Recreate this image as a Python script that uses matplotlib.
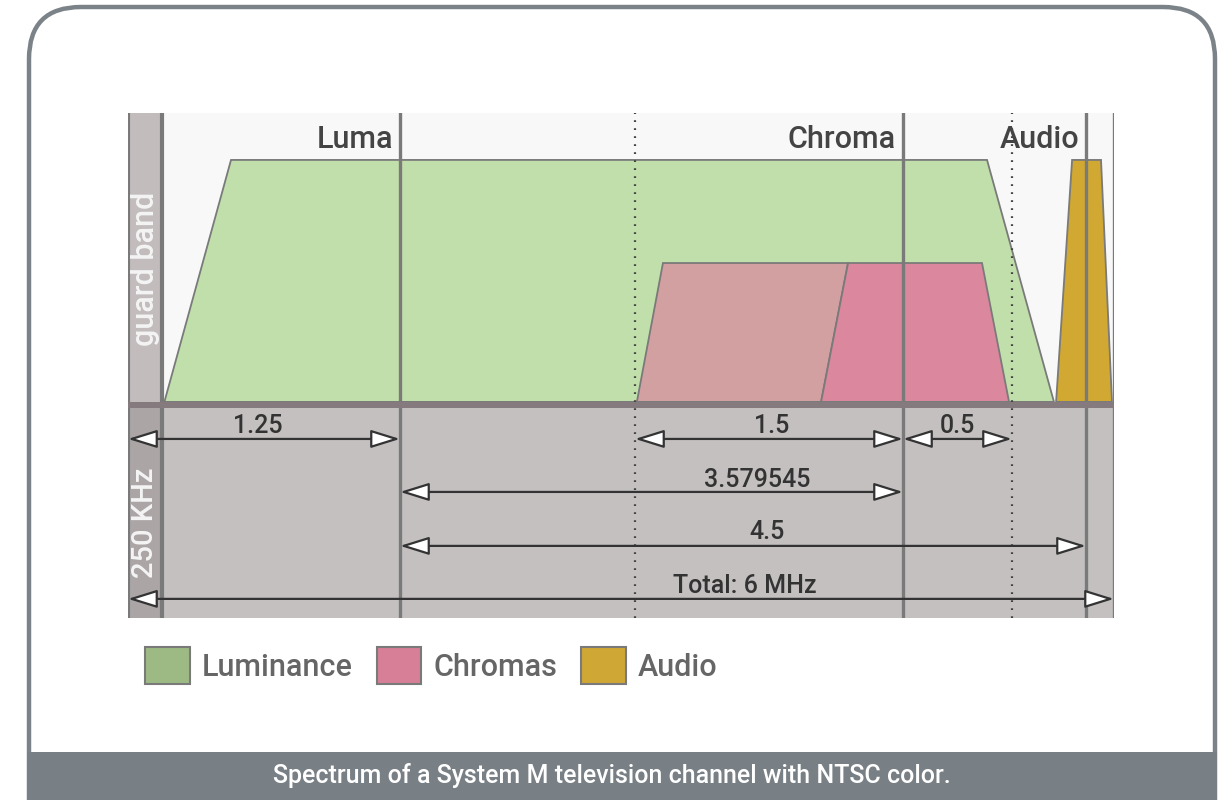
import numpy as np
import matplotlib
matplotlib.use("Agg")
import matplotlib.pyplot as plt
from matplotlib.patches import FancyBboxPatch, Patch, Polygon, ArrowStyle

plt.rcParams['font.family'] = ['Roboto', 'DejaVu Sans']
plt.rcParams['font.weight'] = 500

# ---------------- data (MHz / relative amplitude) ----------------
band_names = ['Luminance', 'Chromas', 'Audio']
band_colors = ['#9dba84', '#d67f96', '#cfa735']

luma_f = [0.26, 0.54, 5.215, 5.568]
luma_a = [0.0, 1.0, 1.0, 0.0]
chroma_lsb_f = [3.34, 3.486, 4.522, 4.371]
chroma_usb_f = [4.371, 4.522, 5.192, 5.316]
chroma_a = [0.0, 0.574, 0.574, 0.0]
audio_f = [5.58, 5.671, 5.884, 5.982]
audio_a = [0.0, 1.0, 1.0, 0.0]

solid_lines = [0.0, 0.25, 1.25, 4.829545, 5.75, 6.0]
dotted_lines = [3.329545, 5.329545]
carrier_labels = ['Luma', 'Chroma', 'Audio']
carrier_freqs = [1.25, 4.829545, 5.75]

arrow_starts = [0.0, 3.329545, 4.829545, 1.25, 1.25, 0.0]
arrow_ends = [1.25, 4.829545, 5.329545, 4.829545, 5.75, 6.0]
arrow_rows = [0, 0, 0, 1, 2, 3]
arrow_texts = ['1.25', '1.5', '0.5', '3.579545', '4.5', 'Total: 6 MHz']
arrow_text_f = [0.653, 4.096, 5.077, 4.012, 4.068, 3.945]

caption = 'Spectrum of a System M television channel with NTSC color.'

# ---------------- schematic (non-linear) frequency scale ----------------
SCALE_MHZ = [0.0, 0.25, 1.25, 3.329545, 4.829545, 5.329545, 5.75, 6.0]
SCALE_PX = [128, 162, 400, 635, 903, 1012, 1086, 1114]


def fwd(x):
    return np.interp(x, SCALE_MHZ, SCALE_PX)


def inv(x):
    return np.interp(x, SCALE_PX, SCALE_MHZ)


ROW_Y = [-0.153, -0.372, -0.595, -0.814]
ROW_TEXT_Y = [-0.128, -0.351, -0.566, -0.789]

W, H = 1225, 800
fig = plt.figure(figsize=(W / 100, H / 100), dpi=100)

# background axes in pixel coordinates (frame, caption bar)
bg = fig.add_axes([0, 0, 1, 1], zorder=0)
bg.set_xlim(0, W)
bg.set_ylim(H, 0)
bg.axis('off')
frame = FancyBboxPatch((29, 7), 1215 - 29, 850, boxstyle='round,pad=0,rounding_size=52',
                       fc='white', ec='#7b8389', lw=3.2)
bg.add_patch(frame)
bar = FancyBboxPatch((27, 752), 1217 - 27, 60, boxstyle='round,pad=0,rounding_size=3',
                     fc='#787f85', ec='none')
bg.add_patch(bar)
bg.text(612, 776, caption, color='white', fontsize=18, ha='center', va='center')

# chart axes
left, right, top, bottom = 128, 1114, 113, 618
ax = fig.add_axes([left / W, 1 - bottom / H, (right - left) / W, (bottom - top) / H], zorder=1)
ax.set_xscale('function', functions=(fwd, inv))
ax.set_xlim(0, 6)
ax.set_ylim(-0.893, 1.194)
ax.axis('off')

ax.axhspan(0, 1.194, color='#f8f8f8', lw=0, zorder=0)
ax.axhspan(-0.893, 0, color='#c4c0c0', lw=0, zorder=0)
ax.fill_between([0, 0.25], 0, 1.194, color='#c2bcbd', lw=0, zorder=0.5)
ax.fill_between([0, 0.25], -0.893, 0, color='#aba5a6', lw=0, zorder=0.5)

edge = '#7a7a7a'
ax.add_patch(Polygon(list(zip(luma_f, luma_a)), closed=True, fc='#c1dfaa', ec=edge, lw=1.3, zorder=1))
ax.add_patch(Polygon(list(zip(chroma_lsb_f, chroma_a)), closed=True, fc='#d2a0a1', ec=edge, lw=1.3, zorder=1.1))
ax.add_patch(Polygon(list(zip(chroma_usb_f, chroma_a)), closed=True, fc='#db879d', ec=edge, lw=1.3, zorder=1.1))
ax.add_patch(Polygon(list(zip(audio_f, audio_a)), closed=True, fc='#d0a832', ec=edge, lw=1.3, zorder=1.1))

for f in dotted_lines:
    ax.axvline(f, color='#444444', lw=1.6, ls=(0, (0.8, 2.8)), zorder=2)
for f in solid_lines:
    ax.axvline(f, color='#7a7a7a', lw=2.4 if f not in (0.0, 0.25) else 3.0, zorder=2.5)

ax.axhspan(-0.025, 0, color='#857a7d', lw=0, zorder=3)

for name, f in zip(carrier_labels, carrier_freqs):
    ax.annotate(name, xy=(f, 1.05), xytext=(-5, 0), textcoords='offset points',
                ha='right', va='baseline', fontsize=22, color='#444444', zorder=4)

ax.text(0.125, 0.55, 'guard band', rotation=90, ha='center', va='center',
        fontsize=22, color='#f4f4f4', zorder=4)
ax.text(0.125, -0.5, '250 KHz', rotation=90, ha='center', va='center',
        fontsize=21, color='#f4f4f4', zorder=4)

style = ArrowStyle('<|-|>', head_length=18, head_width=5.6)
for x0, x1, r, t, tf in zip(arrow_starts, arrow_ends, arrow_rows, arrow_texts, arrow_text_f):
    ax.annotate('', xy=(x1, ROW_Y[r]), xytext=(x0, ROW_Y[r]),
                arrowprops=dict(arrowstyle=style, fc='white', ec='#333333', lw=1.6,
                                shrinkA=0, shrinkB=0, mutation_scale=1), zorder=4)
    ax.text(tf, ROW_TEXT_Y[r], t, ha='center', va='baseline', fontsize=18,
            color='#333333', zorder=4)

handles = [Patch(fc=c, ec='#7a7a7a', lw=1.5) for c in band_colors]
leg = fig.legend(handles, band_names, loc='center left',
                 bbox_to_anchor=(145 / W, 1 - 665.5 / H), ncol=3, frameon=False,
                 fontsize=22, labelcolor='#666666', handlelength=1.47, handleheight=1.47,
                 handletextpad=0.39, columnspacing=0.78, borderpad=0, borderaxespad=0)

fig.savefig('out.png', dpi=100)
